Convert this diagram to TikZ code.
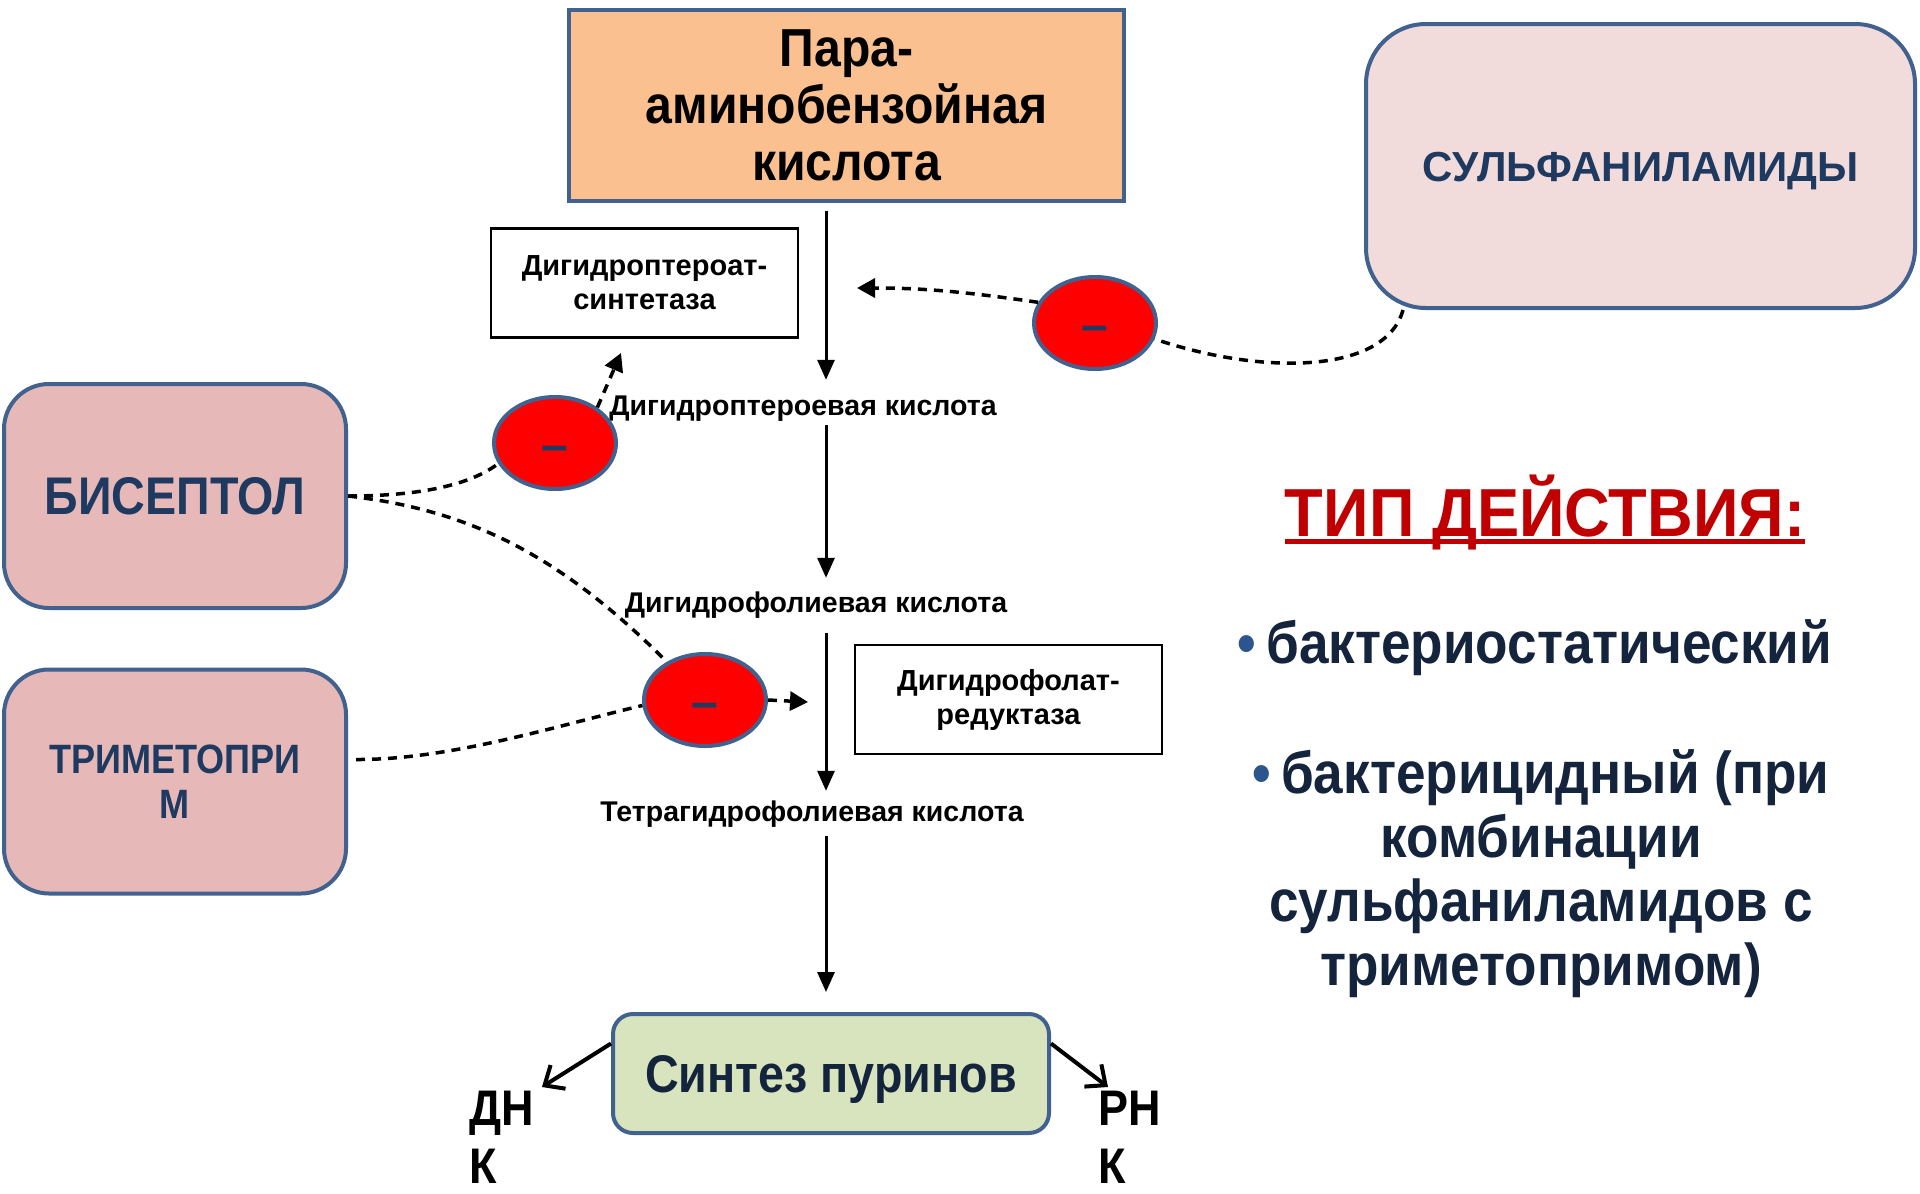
\documentclass[tikz,border=0pt]{standalone}
\usepackage{fontspec}
\setmainfont{Liberation Sans}
\newfontfamily\fmid[FakeStretch=0.9]{Liberation Sans}
\newfontfamily\fbx[FakeStretch=0.88]{Liberation Sans}
\newfontfamily\ftitle[FakeStretch=0.93]{Liberation Sans}
\usetikzlibrary{arrows.meta,shapes.geometric}
\definecolor{boxblue}{HTML}{41618F}
\definecolor{peach}{HTML}{FAC090}
\definecolor{sulfafill}{HTML}{F2DCDB}
\definecolor{bisfill}{HTML}{E6B9B8}
\definecolor{synthfill}{HTML}{D7E4BD}
\definecolor{navy}{HTML}{1F3A60}
\definecolor{darknavy}{HTML}{14243D}
\definecolor{redC}{HTML}{C00000}
\definecolor{bulletblue}{HTML}{2C5590}
\definecolor{inhred}{HTML}{FF0000}
\tikzset{
  bluebox/.style={draw=boxblue, line width=4pt, inner sep=0pt, align=center},
  enzbox/.style={draw=black, line width=2.5pt, fill=white, inner sep=0pt, align=center,
    minimum width=307pt, minimum height=109pt, font=\bfseries\fontsize{29}{34}\selectfont},
  lab/.style={font=\bfseries\fontsize{28.5}{34}\selectfont, inner sep=0pt, text height=21pt, text depth=6pt},
  inhib/.style={ellipse, draw=boxblue, line width=4pt, fill=inhred, inner sep=0pt,
    minimum width=122pt, minimum height=92pt, text=navy,
    font=\bfseries\fontsize{48}{48}\selectfont, text height=36pt, text depth=0pt},
  flow/.style={line width=3pt, -{Triangle[length=20pt,width=17pt]}},
  inh/.style={line width=3.5pt, dash pattern=on 9pt off 7pt},
  inharr/.style={inh, -{Triangle[length=18pt,width=19pt]}},
  outarr/.style={line width=4pt, -{Straight Barb[length=16pt,width=28pt,line width=4pt]}},
}
\begin{document}
\begin{tikzpicture}[x=1pt,y=-1pt]
\fill[white] (0,0) rectangle (1920,1194);
\useasboundingbox (0,0) rectangle (1920,1194);

% main boxes
\node[bluebox, fill=peach, minimum width=555pt, minimum height=191pt,
  font=\fmid\bfseries\fontsize{53.5}{57}\selectfont] (paba) at (846.5,105) {Пара-\\аминобензойная\\кислота};
\node[bluebox, fill=sulfafill, rounded corners=60pt, minimum width=549pt, minimum height=284pt,
  text=navy, font=\bfseries\fontsize{42}{48}\selectfont, text height=30pt, text depth=0pt] (sulfa) at (1640.5,166) {СУЛЬФАНИЛАМИДЫ};
\node[bluebox, fill=bisfill, rounded corners=45pt, minimum width=342pt, minimum height=224pt,
  text=navy, font=\fbx\bfseries\fontsize{53}{60}\selectfont] (bis) at (175,496) {БИСЕПТОЛ};
\node[bluebox, fill=bisfill, rounded corners=45pt, minimum width=342pt, minimum height=224pt,
  text=navy, font=\fbx\bfseries\fontsize{41}{45}\selectfont] (trim) at (175,781.5) {ТРИМЕТОПРИ\\М};
\node[bluebox, fill=synthfill, rounded corners=20pt, minimum width=436pt, minimum height=119pt,
  text=darknavy, font=\fbx\bfseries\fontsize{53}{60}\selectfont, text height=38pt, text depth=0pt] (synth) at (831,1073.5) {Синтез пуринов};

% enzymes
\node[enzbox] (enz1) at (644.5,283) {Дигидроптероат-\\синтетаза};
\node[enzbox] (enz2) at (1008.5,699.5) {Дигидрофолат-\\редуктаза};

% metabolites
\node[lab] (dhp) at (803,408) {Дигидроптероевая кислота};
\node[lab] (dhf) at (816,605) {Дигидрофолиевая кислота};
\node[lab] (thf) at (812,814) {Тетрагидрофолиевая кислота};

% nucleic acids
\node[font=\fmid\bfseries\fontsize{50}{58}\selectfont, align=left, anchor=north west, inner sep=0pt] (dnk) at (469,1091) {ДН\\К};
\node[font=\fmid\bfseries\fontsize{50}{58}\selectfont, align=left, anchor=north west, inner sep=0pt] (rnk) at (1098,1091) {РН\\К};

% inhibition marks
\node[inhib] (e1) at (1095,323) {–};
\node[inhib] (e2) at (555,443) {–};
\node[inhib] (e3) at (705,700) {–};

% right-hand text
\node[anchor=base, inner sep=0pt, text=redC, font=\ftitle\bfseries\fontsize{68}{76}\selectfont] (title) at (1545,536)
  {\setbox0\hbox{ТИП ДЕЙСТВИЯ:}\rlap{\rule[-8pt]{\wd0}{5pt}}\box0};
\node[anchor=center, inner sep=0pt, text=darknavy, font=\fmid\bfseries\fontsize{59}{64}\selectfont] (b1) at (1535,648)
  {\textcolor{bulletblue}{•}\,бактериостатический};
\node[anchor=center, inner sep=0pt, align=center, text=darknavy, font=\fmid\bfseries\fontsize{59}{64}\selectfont] (b2) at (1541,874)
  {\textcolor{bulletblue}{•}\,бактерицидный (при\\комбинации\\сульфаниламидов с\\триметопримом)};

% pathway arrows
\coordinate (ax) at (826,0);
\draw[flow, shorten <=8pt, shorten >=14.5pt] (paba.south -| ax) -- (dhp.north -| ax);
\draw[flow, shorten <=3.5pt, shorten >=13.5pt] (dhp.south -| ax) -- (dhf.north -| ax);
\draw[flow, shorten <=14pt, shorten >=9.5pt] (dhf.south -| ax) -- (thf.north -| ax);
\draw[flow, shorten <=8.5pt, shorten >=20pt] (thf.south -| ax) -- (synth.north -| ax);

\draw[outarr] ([yshift=30pt]synth.west) -- ([xshift=8pt,yshift=4pt]dnk.north east);
\draw[outarr] ([yshift=30pt]synth.east) -- ([xshift=10pt,yshift=4pt]rnk.north west);

% inhibition connectors
\coordinate (t1) at (857,288);
\coordinate (t2) at (621,353);
\coordinate (t3) at (808,702);
\draw[inh] ([xshift=39pt]sulfa.south west) .. controls (1385,375) and (1260,375) .. (e1.-15);
\draw[inharr] (e1.160) .. controls (960,291) and (920,288) .. (t1);
\draw[inh] (bis.east) .. controls (420,496) and (470,485) .. (e2.200);
\draw[inharr] (e2.40) -- (t2);
\draw[inh] (bis.east) .. controls (470,510) and (560,555) .. (e3.135);
\draw[inh] ([xshift=8pt,yshift=22pt]trim.east) .. controls (450,760) and (560,725) .. (e3.185);
\draw[inharr] (e3.east) -- (t3);
\end{tikzpicture}
\end{document}
